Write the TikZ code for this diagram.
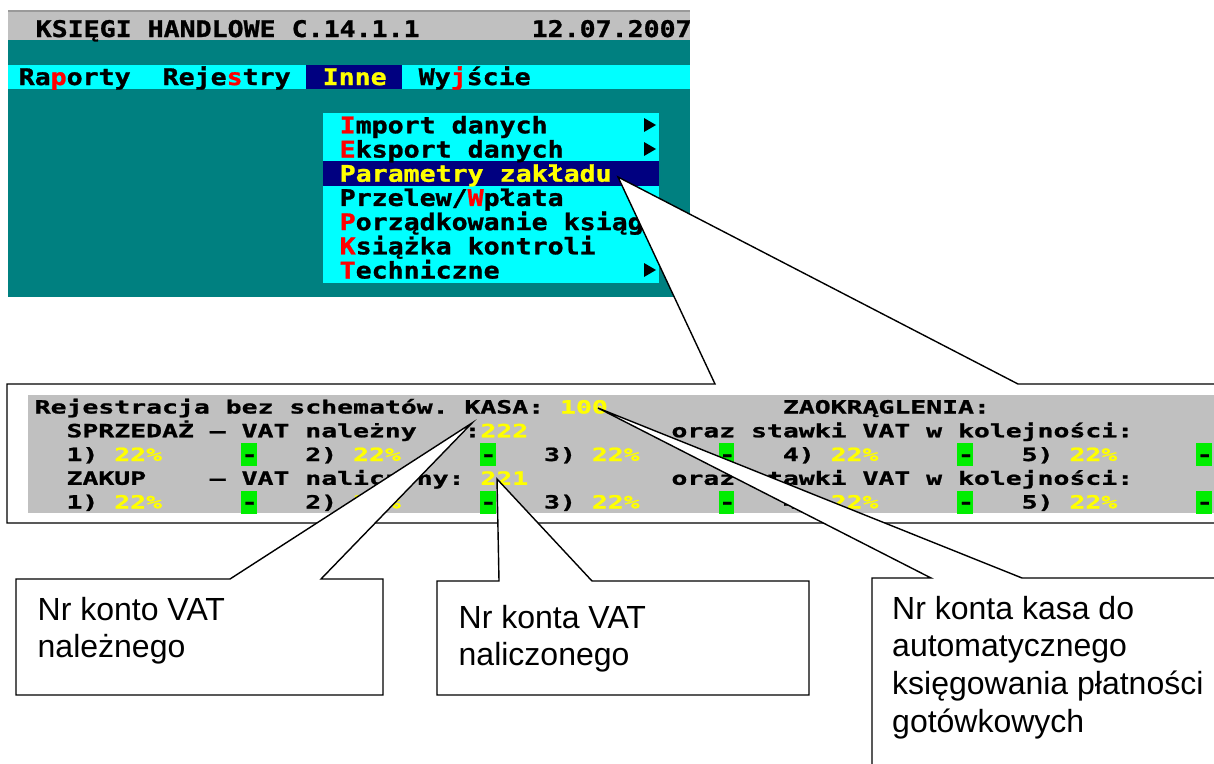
\documentclass[tikz,border=0pt]{standalone}
\usepackage{fontspec}
\newfontfamily\dosT[FakeStretch=1.160,FakeBold=1.2]{DejaVu Sans Mono}
\newfontfamily\dosB[FakeStretch=1.453,FakeBold=1.2]{DejaVu Sans Mono}
\newfontfamily\arialf{Liberation Sans}
\definecolor{dteal}{HTML}{008080}
\definecolor{dcyan}{HTML}{00FFFF}
\definecolor{dnavy}{HTML}{000080}
\definecolor{tgray}{HTML}{C0C0C0}
\definecolor{tgrayd}{HTML}{9A9A9A}
\definecolor{dyel}{HTML}{FFFF00}
\definecolor{hot}{HTML}{FF0000}
\definecolor{dgreen}{HTML}{00EE00}
\newlength\cwT \setlength\cwT{16pt}
\newlength\cwB \setlength\cwB{15.92pt}
\newcommand\CT[2]{\rlap{\hspace*{\dimexpr #1\cwT\relax}#2}}
\newcommand\CB[2]{\rlap{\hspace*{\dimexpr #1\cwB\relax}#2}}
\newcommand\hk[1]{\textcolor{hot}{#1}}
\newcommand\yl[1]{\textcolor{dyel}{#1}}
\newcommand\pctrow{\CB{2}{1)}\CB{5}{\yl{22\%}}\CB{13}{-}\CB{17}{2)}\CB{20}{\yl{22\%}}\CB{28}{-}\CB{32}{3)}\CB{35}{\yl{22\%}}\CB{43}{-}\CB{47}{4)}\CB{50}{\yl{22\%}}\CB{58}{-}\CB{62}{5)}\CB{65}{\yl{22\%}}\CB{73}{-}}
\newcommand\stawki{\CB{40}{oraz}\CB{45}{stawki}\CB{52}{VAT}\CB{56}{w}\CB{58}{kolejności:}}
\begin{document}
\begin{tikzpicture}[x=1pt,y=-1pt,
  toptext/.style={anchor=base west,inner sep=0pt,font=\dosT\bfseries\fontsize{22.9}{24}\selectfont},
  bottext/.style={anchor=base west,inner sep=0pt,font=\dosB\bfseries\fontsize{18.2}{20}\selectfont},
  callout/.style={draw=black,fill=white,line width=1.4pt,line join=miter},
  label/.style={anchor=base west,inner sep=0pt,align=left,font=\arialf\fontsize{32}{37.7}\selectfont},
  arrowtri/.style={fill=black}]
\useasboundingbox (0,0) rectangle (1214,763);
\fill[white] (0,0) rectangle (1214,763);
% ---------- top screenshot ----------
\fill[tgray] (8,10) rectangle (690,40);
\fill[tgrayd] (8,10) rectangle (690,12);
\fill[dteal] (8,40) rectangle (690,297);
\fill[dcyan] (8,65) rectangle (690,89);
\fill[dnavy] (306,65) rectangle (402,89);
\fill[dcyan] (323,113) rectangle (659,283);
\fill[dnavy] (323,161) rectangle (659,186);
\node[toptext] (title) at (35,37) {\CT{0}{KSIĘGI}\CT{7}{HANDLOWE}\CT{16}{C.14.1.1}\CT{31}{12.07.2007}};
\node[toptext] (menubar) at (18,85) {\CT{0}{Ra\hk{p}orty}\CT{9}{Reje\hk{s}try}\CT{19}{\yl{Inne}}\CT{25}{Wy\hk{j}ście}};
\node[toptext] (m1) at (339,133.3) {\CT{0}{\hk{I}mport}\CT{7}{danych}};
\node[toptext] (m2) at (339,157.5) {\CT{0}{\hk{E}ksport}\CT{8}{danych}};
\node[toptext] (m3) at (339,181.7) {\CT{0}{\yl{Parametry}}\CT{10}{\yl{zakładu}}};
\node[toptext] (m4) at (339,205.9) {\CT{0}{Przelew/\hk{W}płata}};
\node[toptext] (m5) at (339,230.1) {\CT{0}{\hk{P}orządkowanie}\CT{14}{ksiąg}};
\node[toptext] (m6) at (339,254.3) {\CT{0}{\hk{K}siążka}\CT{8}{kontroli}};
\node[toptext] (m7) at (339,278.5) {\CT{0}{\hk{T}echniczne}};
\fill[arrowtri] (644,118) -- (656,125) -- (644,132) -- cycle;
\fill[arrowtri] (644,142) -- (656,149) -- (644,156) -- cycle;
\fill[arrowtri] (644,263) -- (656,270) -- (644,277) -- cycle;
% ---------- callout A (Parametry zakładu) ----------
\coordinate (tipA) at (618,177);
\draw[callout] (715,384) -- (tipA) -- (1018,384) -- (1232,384) -- (1232,523) -- (7,523) -- (7,384) -- cycle;
% ---------- bottom screenshot ----------
\fill[tgray] (28,395) rectangle (1220,513);
\foreach \k in {0,...,4} {
  \pgfmathsetmacro\gx{34+(13+15*\k)*15.92}
  \fill[dgreen] (\gx,443) rectangle ++(15.92,23);
  \fill[dgreen] (\gx,490.5) rectangle ++(15.92,23);
}
\node[bottext] (r1) at (34,413.5) {\CB{0}{Rejestracja}\CB{12}{bez}\CB{16}{schematów.}\CB{27}{KASA:}\CB{33}{\yl{100}}\CB{47}{ZAOKRĄGLENIA:}};
\node[bottext] (r2) at (34,437.25) {\CB{2}{SPRZEDAŻ}\CB{11}{–}\CB{13}{VAT}\CB{17}{należny}\CB{27}{:}\CB{28}{\yl{222}}\stawki};
\node[bottext] (r3) at (34,461) {\pctrow};
\node[bottext] (r4) at (34,484.75) {\CB{2}{ZAKUP}\CB{11}{–}\CB{13}{VAT}\CB{17}{naliczony:}\CB{28}{\yl{221}}\stawki};
\node[bottext] (r5) at (34,508.5) {\pctrow};
% ---------- callouts B, D, C ----------
\coordinate (tipB) at (472,423);
\coordinate (tipD) at (497,479);
\coordinate (tipC) at (598,408);
\draw[callout] (230,579) -- (tipB) -- (321,579) -- (383,579) -- (383,695) -- (16,695) -- (16,579) -- cycle;
\draw[callout] (499,581) -- (tipD) -- (592,581) -- (809,581) -- (809,695) -- (437,695) -- (437,581) -- cycle;
\draw[callout] (931,578) -- (tipC) -- (1022,578) -- (1232,578) -- (1232,790) -- (872,790) -- (872,578) -- cycle;
% base anchor of a multi-line node is the baseline of its last line
\node[label] (labB) at (37.5,657.7) {Nr konto VAT\\należnego};
\node[label] (labD) at (458.5,665.7) {Nr konta VAT\\naliczonego};
\node[label] (labC) at (892,732.1) {Nr konta kasa do\\automatycznego\\księgowania płatności\\gotówkowych};
\end{tikzpicture}
\end{document}
